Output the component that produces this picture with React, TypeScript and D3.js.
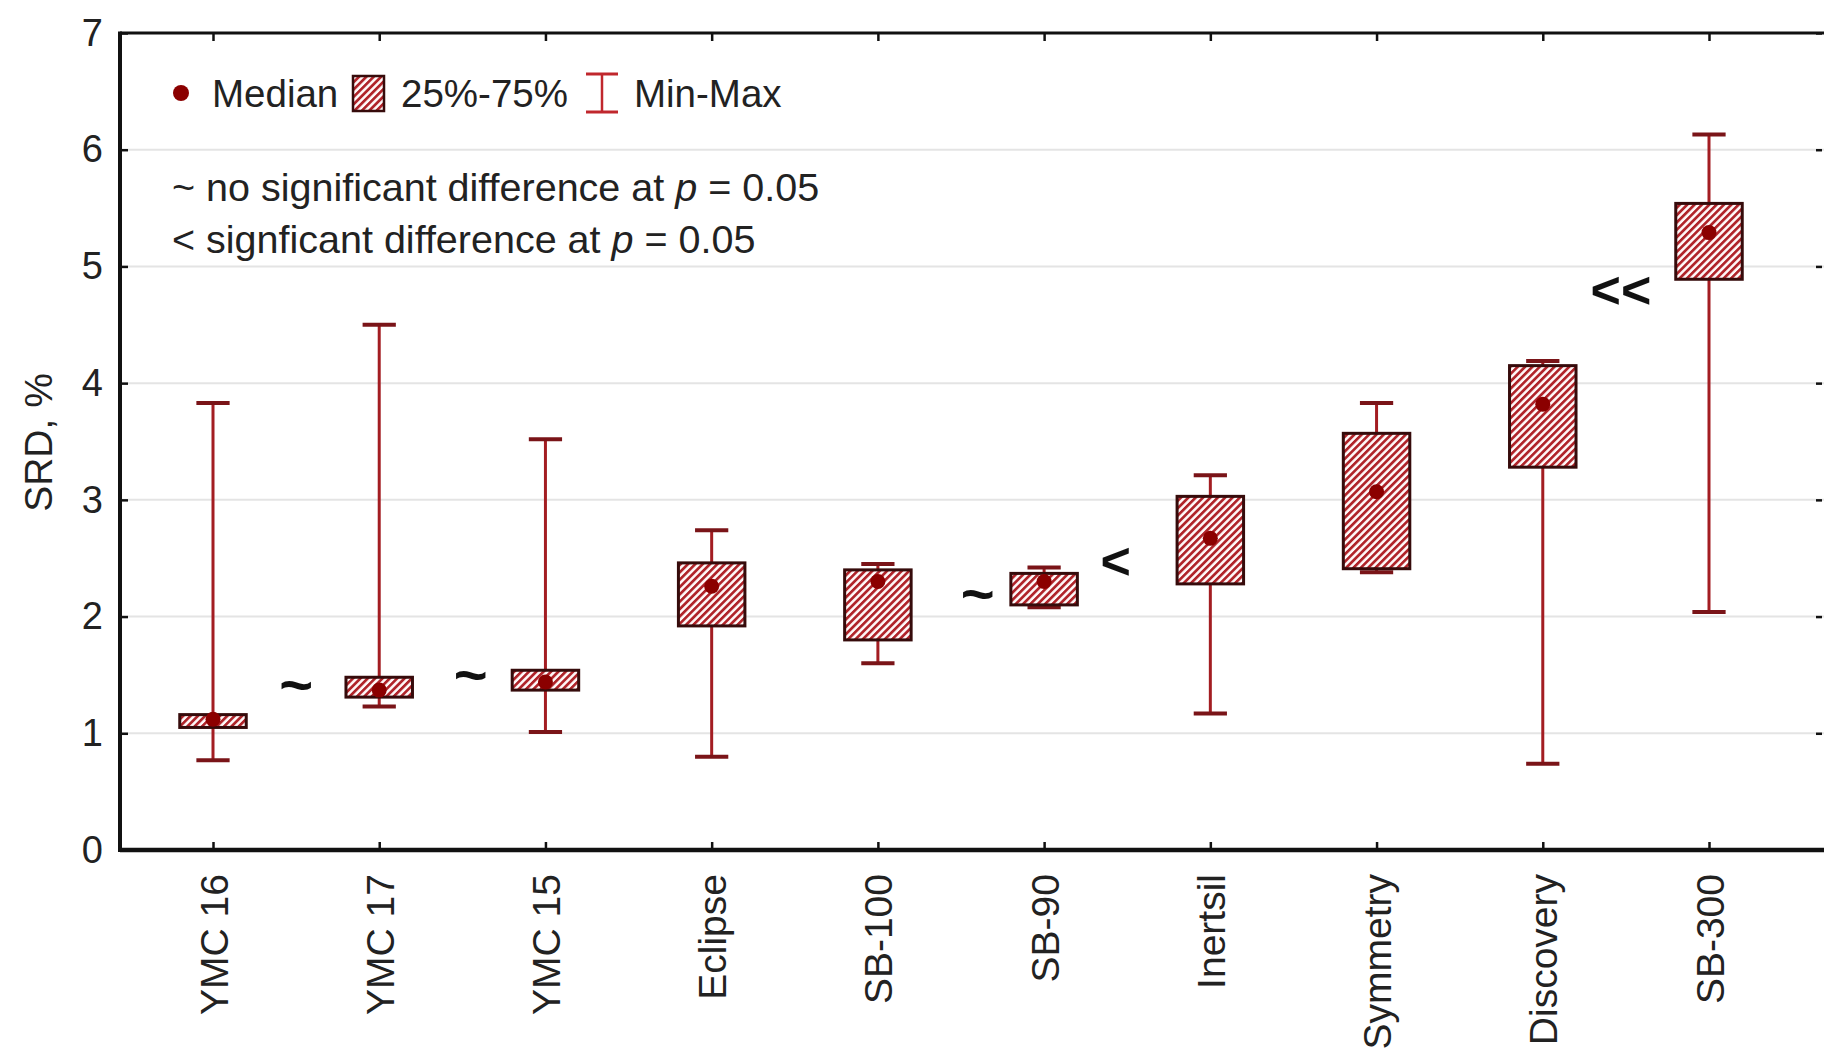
import React, { useEffect, useRef } from "react";
import * as d3 from "d3";

// Columns (stationary phases), ordered by increasing SRD
const categories = ["YMC 16", "YMC 17", "YMC 15", "Eclipse", "SB-100", "SB-90", "Inertsil", "Symmetry", "Discovery", "SB-300"];
const medians = [1.12, 1.37, 1.44, 2.26, 2.3, 2.3, 2.67, 3.07, 3.82, 5.29];
const q1 = [1.05, 1.31, 1.37, 1.92, 1.8, 2.1, 2.28, 2.41, 3.28, 4.89];
const q3 = [1.16, 1.48, 1.54, 2.46, 2.4, 2.37, 3.03, 3.57, 4.15, 5.54];
const mins = [0.77, 1.23, 1.01, 0.8, 1.6, 2.08, 1.17, 2.38, 0.74, 2.04];
const maxs = [3.83, 4.5, 3.52, 2.74, 2.45, 2.42, 3.21, 3.83, 4.19, 6.13];

// Significance marks placed between neighbouring columns (position on the category axis, SRD level)
const markSymbols = ["~", "~", "~", "<", "<<"];
const markPositions = [0.5, 1.55, 4.6, 5.43, 8.47];
const markLevels = [1.42, 1.5, 2.2, 2.48, 4.8];

const yTicks = [0, 1, 2, 3, 4, 5, 6, 7];

const W = 1824;
const H = 1053;
const FONT = "'Liberation Sans', Arial, sans-serif";

export default function App() {
  const ref = useRef<SVGSVGElement | null>(null);

  useEffect(() => {
    const svg = d3.select(ref.current);
    svg.selectAll("*").remove();

    const left = 120, right = 1824, top = 33, bottom = 850;
    const x = d3.scalePoint<string>().domain(categories).range([left + 93, 1709]);
    const y = d3.scaleLinear().domain([0, 7]).range([bottom, top]);
    const step = x.step();

    const defs = svg.append("defs");
    const pat = defs.append("pattern")
      .attr("id", "hatch")
      .attr("patternUnits", "userSpaceOnUse")
      .attr("width", 5.2)
      .attr("height", 5.2)
      .attr("patternTransform", "rotate(45)");
    pat.append("rect").attr("width", 5.2).attr("height", 5.2).attr("fill", "#fffafa");
    pat.append("line").attr("x1", 1.3).attr("y1", 0).attr("x2", 1.3).attr("y2", 5.2)
      .attr("stroke", "#b0242a").attr("stroke-width", 2.8);

    svg.append("rect").attr("width", W).attr("height", H).attr("fill", "#ffffff");

    // horizontal grid
    svg.append("g").selectAll("line").data(yTicks.filter(t => t > 0 && t < 7)).join("line")
      .attr("x1", left).attr("x2", right)
      .attr("y1", d => y(d)).attr("y2", d => y(d))
      .attr("stroke", "#e4e4e4").attr("stroke-width", 2);

    // axes
    const gy = svg.append("g").attr("transform", `translate(${left},0)`)
      .call(d3.axisLeft(y).tickValues(yTicks).tickSize(-8).tickPadding(17).tickFormat(d3.format("d")));
    gy.select(".domain").remove();
    gy.selectAll(".tick line").attr("stroke", "#111").attr("stroke-width", 2.5);
    gy.selectAll("text").attr("font-family", FONT).attr("font-size", 38).attr("fill", "#222");

    const gr = svg.append("g").attr("transform", `translate(${1822},0)`)
      .call(d3.axisRight(y).tickValues(yTicks).tickSize(-6).tickFormat(() => ""));
    gr.select(".domain").remove();
    gr.selectAll(".tick line").attr("stroke", "#111").attr("stroke-width", 2.5);

    const gt = svg.append("g").attr("transform", `translate(0,${top})`)
      .call(d3.axisTop(x).tickSize(-8).tickFormat(() => ""));
    gt.select(".domain").remove();
    gt.selectAll(".tick line").attr("stroke", "#111").attr("stroke-width", 2.5);

    const gb = svg.append("g").attr("transform", `translate(0,${bottom})`)
      .call(d3.axisBottom(x).tickSize(-8));
    gb.select(".domain").remove();
    gb.selectAll(".tick line").attr("stroke", "#111").attr("stroke-width", 2.5);
    gb.selectAll("text")
      .attr("transform", "rotate(-90)")
      .attr("x", -24).attr("y", 0).attr("dy", "0.36em")
      .attr("text-anchor", "end")
      .attr("font-family", FONT).attr("font-size", 39).attr("fill", "#222");

    // frame lines
    svg.append("line").attr("x1", left).attr("x2", right).attr("y1", top).attr("y2", top)
      .attr("stroke", "#111").attr("stroke-width", 3);
    svg.append("line").attr("x1", left).attr("x2", right).attr("y1", bottom).attr("y2", bottom)
      .attr("stroke", "#111").attr("stroke-width", 4.5);
    svg.append("line").attr("x1", left).attr("x2", left).attr("y1", top - 1.5).attr("y2", bottom + 2)
      .attr("stroke", "#111").attr("stroke-width", 4);

    // y-axis title
    svg.append("text")
      .attr("transform", `translate(38,${(top + bottom) / 2 + 1}) rotate(-90)`)
      .attr("text-anchor", "middle").attr("dy", "0.35em")
      .attr("font-family", FONT).attr("font-size", 39).attr("fill", "#222")
      .text("SRD, %");

    const boxW = step * 0.4;
    const capW = step * 0.2;
    const whiskerColor = "#a31d22";
    const boxStroke = "#360b0b";

    const g = svg.append("g");
    categories.forEach((c, i) => {
      const cx = x(c) as number;
      g.append("line").attr("x1", cx).attr("x2", cx).attr("y1", y(mins[i])).attr("y2", y(maxs[i]))
        .attr("stroke", whiskerColor).attr("stroke-width", 3);
      [mins[i], maxs[i]].forEach(v => {
        g.append("line").attr("x1", cx - capW / 2).attr("x2", cx + capW / 2)
          .attr("y1", y(v)).attr("y2", y(v))
          .attr("stroke", "#7a1418").attr("stroke-width", 4);
      });
      g.append("rect")
        .attr("x", cx - boxW / 2).attr("width", boxW)
        .attr("y", y(q3[i])).attr("height", y(q1[i]) - y(q3[i]))
        .attr("fill", "url(#hatch)").attr("stroke", boxStroke).attr("stroke-width", 3);
      g.append("circle").attr("cx", cx).attr("cy", y(medians[i])).attr("r", 7.5).attr("fill", "#8b0000");
    });

    // significance marks
    const posX = (p: number) => (x(categories[0]) as number) + p * step;
    svg.append("g").selectAll("text").data(markSymbols).join("text")
      .attr("x", (_, i) => posX(markPositions[i]))
      .attr("y", (_, i) => y(markLevels[i]))
      .attr("dy", "0.35em")
      .attr("text-anchor", "middle")
      .attr("font-family", FONT).attr("font-weight", "bold")
      .attr("font-size", d => (d === "~" ? 58 : 52)).attr("fill", "#111")
      .text(d => d);

    // legend
    const lg = svg.append("g").attr("font-family", FONT).attr("font-size", 38.5).attr("fill", "#222");
    const ly = 93;
    lg.append("circle").attr("cx", 181).attr("cy", ly).attr("r", 8).attr("fill", "#8b0000");
    lg.append("text").attr("x", 212).attr("y", ly).attr("dy", "0.36em").text("Median");
    lg.append("rect").attr("x", 353).attr("y", ly - 17).attr("width", 31).attr("height", 35)
      .attr("fill", "url(#hatch)").attr("stroke", boxStroke).attr("stroke-width", 2.5);
    lg.append("text").attr("x", 401).attr("y", ly).attr("dy", "0.36em").text("25%-75%");
    lg.append("line").attr("x1", 602).attr("x2", 602).attr("y1", ly - 19).attr("y2", ly + 19)
      .attr("stroke", "#c0272d").attr("stroke-width", 2.5);
    [ly - 19, ly + 19].forEach(v => {
      lg.append("line").attr("x1", 586).attr("x2", 618).attr("y1", v).attr("y2", v)
        .attr("stroke", "#c0272d").attr("stroke-width", 3);
    });
    lg.append("text").attr("x", 634).attr("y", ly).attr("dy", "0.36em").text("Min-Max");

    const notes = [
      { lead: "~ no significant difference at ", y: 187 },
      { lead: "< signficant difference at ", y: 239 },
    ];
    notes.forEach(n => {
      const t = lg.append("text").attr("x", 172).attr("y", n.y).attr("dy", "0.36em").attr("font-size", 39.5);
      t.append("tspan").text(n.lead);
      t.append("tspan").attr("font-style", "italic").text("p");
      t.append("tspan").text(" = 0.05");
    });
  }, []);

  return (
    <svg
      ref={ref}
      width={W}
      height={H}
      style={{ position: "absolute", left: 0, top: 0, display: "block" }}
    />
  );
}
